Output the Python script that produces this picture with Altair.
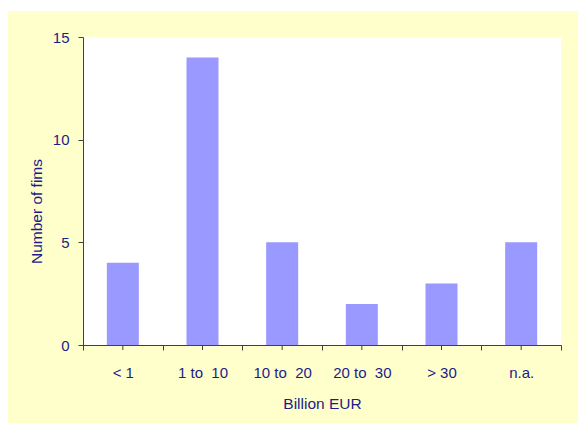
import altair as alt
import pandas as pd

# Firm counts by size class (non-breaking spaces keep the wide gaps in the labels)
categories = ["< 1", "1 to \u00a010", "10 to \u00a020", "20 to \u00a030", "> 30", "n.a."]
firms = [4, 14, 5, 2, 3, 5]

df = pd.DataFrame({"cls": categories, "n": firms})

W, H = 478, 308
NAVY = "#1c1c8a"
AXIS = "#404040"
FONT = "Liberation Sans"

x_scale = alt.Scale(domain=categories, paddingInner=0, paddingOuter=0)
y_scale = alt.Scale(domain=[0, 15], nice=False)

# yellow panel behind everything, white plot area on top of it
panel = alt.Chart(df).mark_rect(color="#ffffcc").encode(
    x=alt.value(-75), x2=alt.value(W + 20), y=alt.value(-26), y2=alt.value(H + 80)
)
plot_bg = alt.Chart(df).mark_rect(color="white").encode(
    x=alt.value(0), x2=alt.value(W), y=alt.value(0), y2=alt.value(H)
)

bars = alt.Chart(df).mark_bar(color="#9999ff", size=32).encode(
    x=alt.X("cls:N", scale=x_scale, sort=categories,
            axis=alt.Axis(title="Billion EUR", labelAngle=0, tickBand="extent",
                          tickSize=5, labelPadding=15, titlePadding=16,
                          zindex=1)),
    y=alt.Y("n:Q", scale=y_scale,
            axis=alt.Axis(title="Number of fims", values=[0, 5, 10, 15],
                          tickSize=5, labelPadding=9, titlePadding=8,
                          titleY=174, grid=False, zindex=1)),
)

# short ticks under each category centre
centre_ticks = alt.Chart(df).mark_rule(color=AXIS, strokeWidth=1).encode(
    x=alt.X("cls:N", scale=x_scale, sort=categories),
    y=alt.value(H), y2=alt.value(H + 5),
)

chart = alt.layer(panel, plot_bg, bars, centre_ticks).properties(
    width=W, height=H,
    autosize=alt.AutoSizeParams(type="none"),
    padding={"left": 83, "top": 37, "right": 17, "bottom": 78},
    background="white",
).configure_view(stroke=None).configure_axis(
    domainColor=AXIS, tickColor=AXIS, labelColor=NAVY, titleColor=NAVY,
    labelFont=FONT, titleFont=FONT, labelFontSize=15, titleFontSize=15.5,
    titleFontWeight="normal",
)

chart.save("out.html", embed_options={"renderer": "svg", "actions": False})
